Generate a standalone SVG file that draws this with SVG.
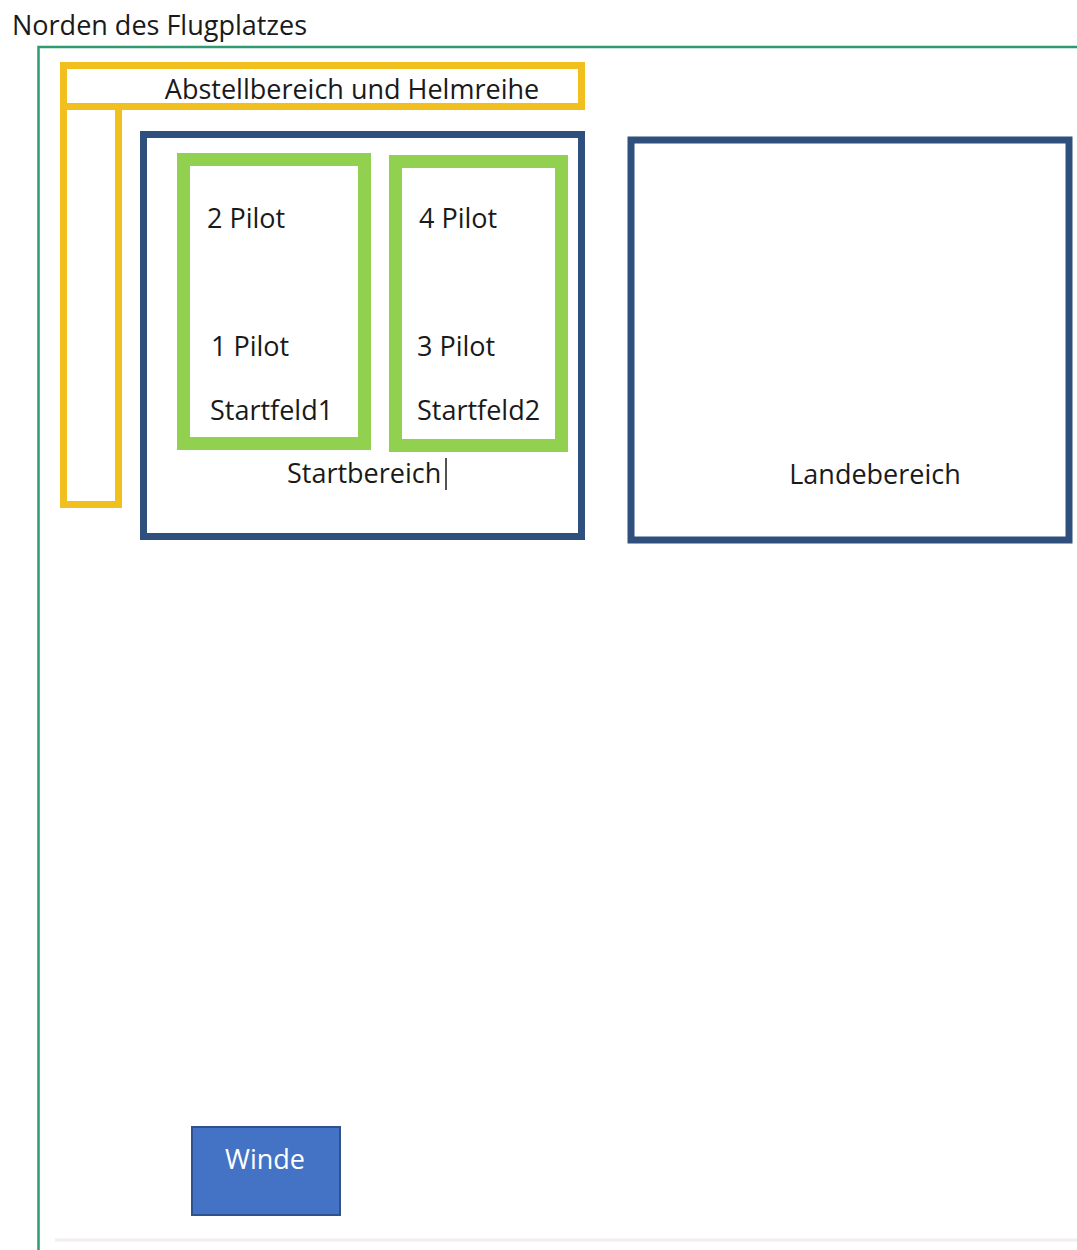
<svg xmlns="http://www.w3.org/2000/svg" width="1077" height="1250" viewBox="0 0 1077 1250">
<style>
text{font-family:"Open Sans","Liberation Sans",sans-serif;font-size:27px;fill:#1a1a1a}
.yel{fill:none;stroke:#f2c01e;stroke-width:7}
.blu{fill:none;stroke:#2f4f7c;stroke-width:7}
.grn{fill:none;stroke:#92d050;stroke-width:13}
</style>
<rect x="0" y="0" width="1077" height="1250" fill="#ffffff"/>
<g id="title"><text x="12" y="35">Norden des Flugplatzes</text></g>
<g id="airfield"><path d="M1077 47 H38.5 V1250" fill="none" stroke="#2e9a70" stroke-width="2.5"/>
<line x1="55" y1="1240" x2="1077" y2="1240" stroke="#f3eeee" stroke-width="3"/></g>
<g id="abstellbereich"><rect class="yel" x="63.5" y="65.5" width="518" height="41"/>
<text x="352" y="99" text-anchor="middle">Abstellbereich und Helmreihe</text></g>
<g id="abstell-links"><rect class="yel" x="63.5" y="106.5" width="55" height="398"/></g>
<g id="startbereich"><rect class="blu" x="143.5" y="134.5" width="438" height="402"/>
<text x="287" y="483">Startbereich</text>
<line x1="446" y1="458" x2="446" y2="490" stroke="#1a1a1a" stroke-width="1.5"/></g>
<g id="startfeld1"><rect class="grn" x="183.5" y="159.5" width="181" height="284"/>
<text x="207" y="228">2 Pilot</text>
<text x="211" y="356">1 Pilot</text>
<text x="210" y="420">Startfeld1</text></g>
<g id="startfeld2"><rect class="grn" x="395.5" y="161.5" width="166" height="284"/>
<text x="419" y="228">4 Pilot</text>
<text x="417" y="356">3 Pilot</text>
<text x="417" y="420">Startfeld2</text></g>
<g id="landebereich"><rect class="blu" x="631" y="140" width="438" height="400" stroke-width="8"/>
<text x="875" y="484" text-anchor="middle">Landebereich</text></g>
<g id="winde"><rect x="192" y="1127" width="148" height="88" fill="#4472c4" stroke="#2f528f" stroke-width="2"/>
<text x="265" y="1169" text-anchor="middle" style="fill:#ffffff">Winde</text></g>
<g id="connectors"></g>
</svg>
